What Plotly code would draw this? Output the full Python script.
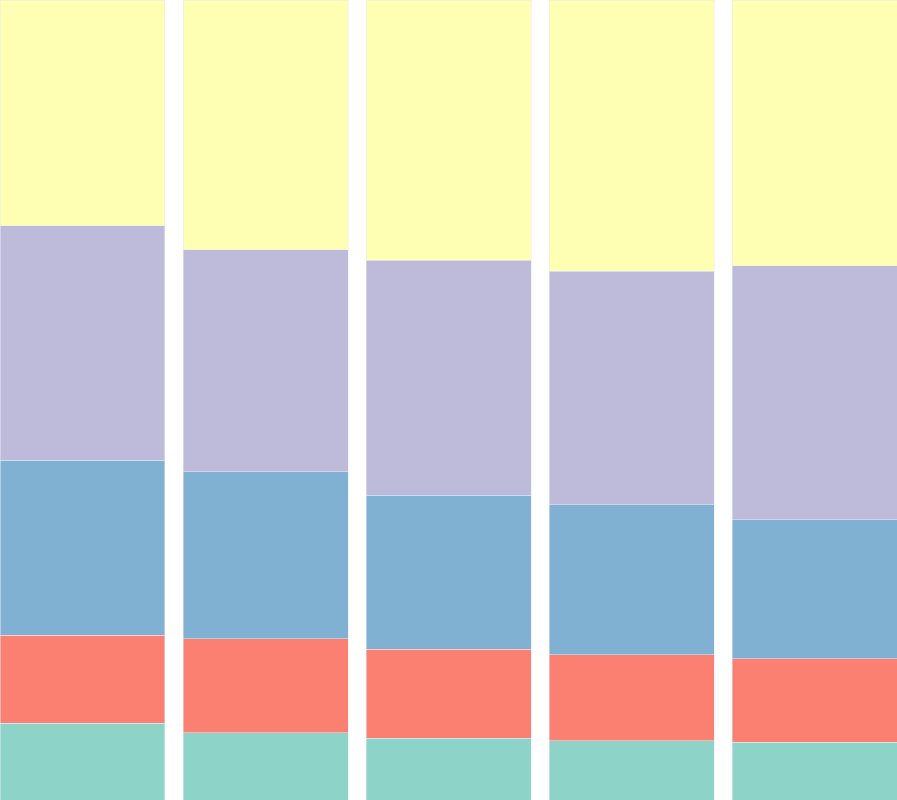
import plotly.graph_objects as go

categories = ["A", "B", "C", "D", "E"]
series_names = ["S1", "S2", "S3", "S4", "S5"]
s1 = [9.6, 8.4, 7.75, 7.4, 7.25]
s2 = [11.0, 11.75, 11.1, 10.75, 10.4]
s3 = [21.9, 20.9, 19.25, 18.75, 17.4]
s4 = [29.3, 27.75, 29.4, 29.25, 31.75]
s5 = [28.2, 31.25, 32.5, 33.9, 33.25]
colors = ["#8dd3c7", "#fb8072", "#80b1d3", "#bebada", "#ffffb3"]

fig = go.Figure()
for name, vals, c in zip(series_names, [s1, s2, s3, s4, s5], colors):
    fig.add_trace(go.Bar(x=categories, y=vals, name=name, marker_color=c))

w = 1 - 0.0984
fig.update_layout(
    barmode="stack", barnorm="percent", bargap=0.0984,
    width=897, height=800, margin=dict(l=0, r=0, t=0, b=0),
    showlegend=False, plot_bgcolor="white", paper_bgcolor="white",
    xaxis=dict(visible=False, range=[-w / 2, len(categories) - 1 + w / 2]),
    yaxis=dict(visible=False, range=[0, 100]),
)
fig.write_html("out.html")
